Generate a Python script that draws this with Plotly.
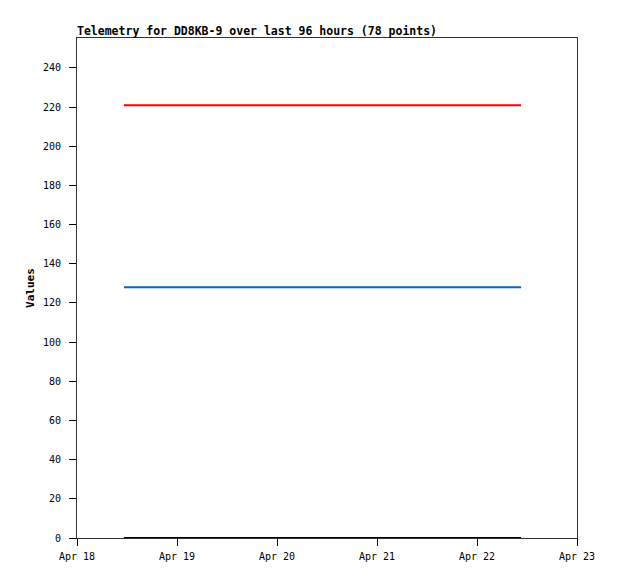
import plotly.graph_objects as go

# sample times and the three telemetry channels
TIMES = [
    "2024-04-18 11:15", "2024-04-18 23:00", "2024-04-19 11:00", "2024-04-19 23:00",
    "2024-04-20 11:00", "2024-04-20 23:00", "2024-04-21 11:00", "2024-04-21 23:00",
    "2024-04-22 10:35",
]
CH_RED = [221, 221, 221, 221, 221, 221, 221, 221, 221]
CH_BLUE = [128, 128, 128, 128, 128, 128, 128, 128, 128]
CH_BLACK = [0, 0, 0, 0, 0, 0, 0, 0, 0]

X_RANGE = ["2024-04-18", "2024-04-23"]
X_TICKS = ["2024-04-18", "2024-04-19", "2024-04-20", "2024-04-21", "2024-04-22", "2024-04-23"]
X_LABELS = ["Apr 18", "Apr 19", "Apr 20", "Apr 21", "Apr 22", "Apr 23"]

MONO = "DejaVu Sans Mono, Liberation Mono, monospace"
INK = "#000000"

# page body adds an 8px margin, so the figure is a bit smaller than the window
W, H = 610, 571

fig = go.Figure()
for vals, color in [(CH_RED, "#ff0000"), (CH_BLUE, "#0066cc"), (CH_BLACK, "#000000")]:
    fig.add_trace(go.Scatter(x=TIMES, y=vals, mode="lines", line=dict(color=color, width=2), showlegend=False))

fig.update_layout(
    width=W,
    height=H,
    margin=dict(l=69, r=41, t=30, b=41),
    plot_bgcolor="white",
    paper_bgcolor="white",
    font=dict(family=MONO, size=10, color=INK),
    title=dict(
        text="<b>Telemetry for DD8KB-9 over last 96 hours (78 points)</b>",
        x=69 / W, xanchor="left", y=1 - 23 / H, yanchor="middle",
        font=dict(family=MONO, size=11.5, color=INK),
    ),
)
fig.update_xaxes(
    range=X_RANGE, tickvals=X_TICKS, ticktext=X_LABELS,
    showgrid=False, zeroline=False, showline=True, linecolor="#333", linewidth=1, mirror=True,
    ticks="outside", ticklen=7, tickcolor=INK, ticklabelstandoff=2,
)
fig.update_yaxes(
    range=[0, 255.3], tickvals=list(range(0, 241, 20)),
    showgrid=False, zeroline=False, showline=True, linecolor="#333", linewidth=1, mirror=True,
    ticks="outside", ticklen=7, tickcolor=INK, ticklabelstandoff=6,
    title=dict(text="<b>Values</b>", font=dict(family=MONO, size=11, color=INK), standoff=6),
)

fig.write_html("out.html")
